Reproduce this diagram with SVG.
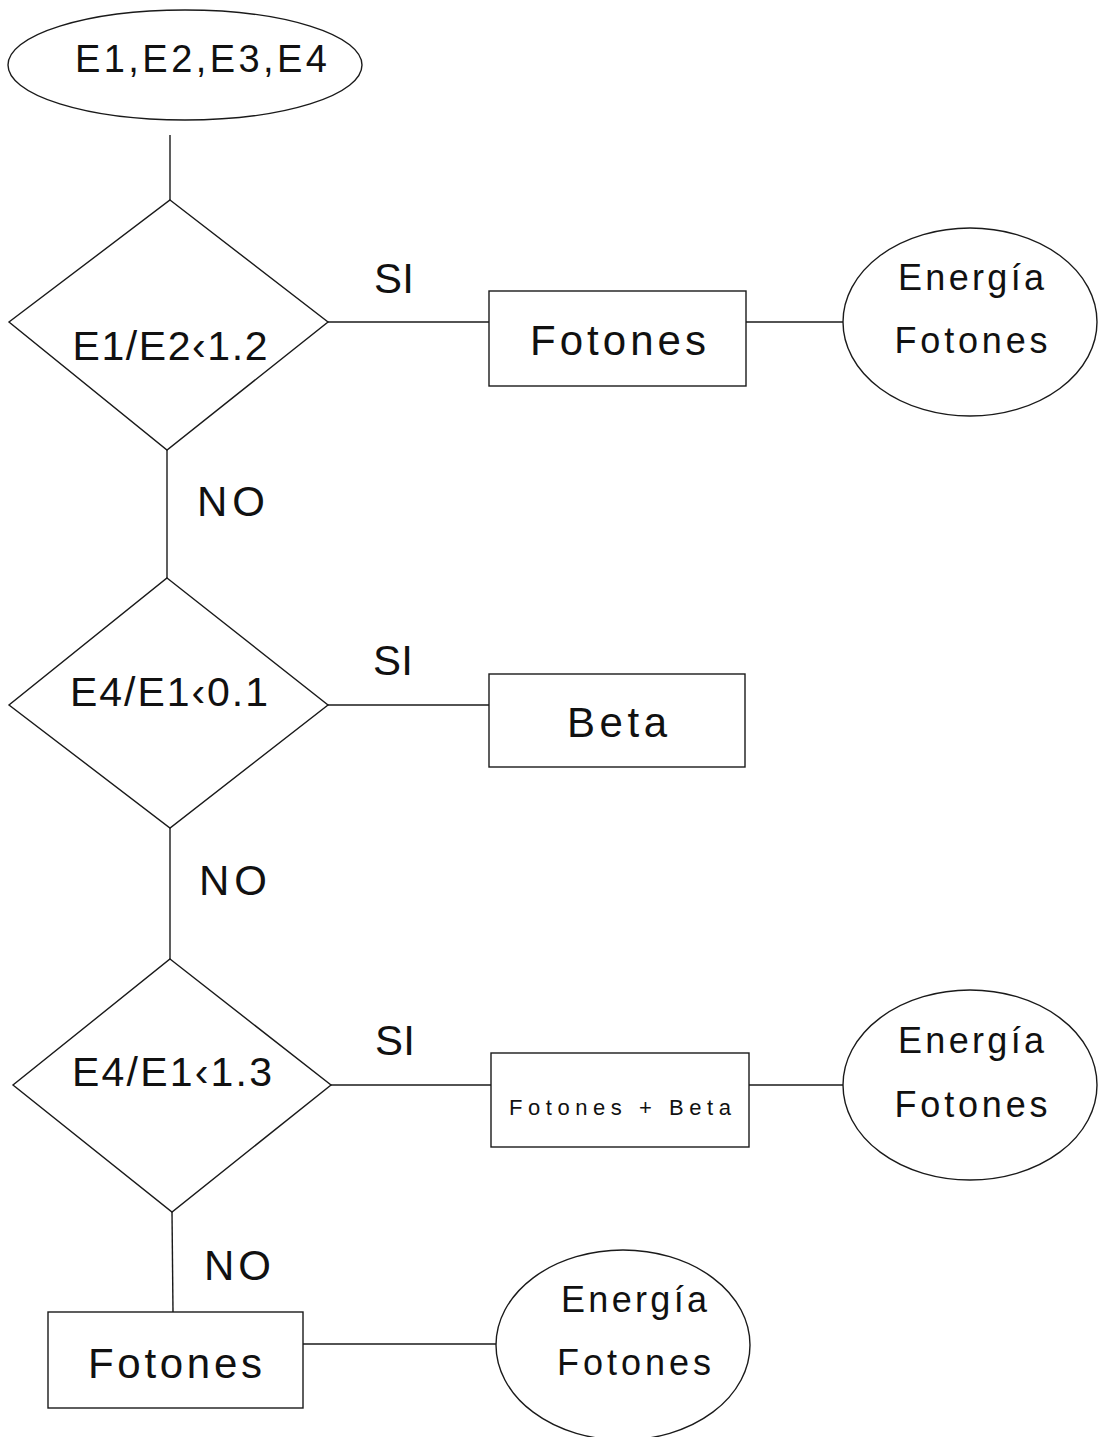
<svg xmlns="http://www.w3.org/2000/svg" width="1099" height="1437" viewBox="0 0 1099 1437">
<style>
.s{fill:#fff;stroke:#1a1a1a;stroke-width:1.4}
.c{stroke:#1a1a1a;stroke-width:1.4;fill:none}
text{font-family:"Liberation Sans",Arial,Helvetica,sans-serif;fill:#111;text-anchor:middle}
.big{font-size:42px}
.dia{font-size:41px}
.ell{font-size:36px}
.lbl{font-size:42px;text-anchor:start}
.sm{font-size:22px}
</style>
<rect width="1099" height="1437" fill="#fff"/>
<g id="connectors">
<line class="c" x1="170" y1="135" x2="170" y2="200"/>
<line class="c" x1="328" y1="322" x2="489" y2="322"/>
<line class="c" x1="746" y1="322" x2="843" y2="322"/>
<line class="c" x1="167" y1="450" x2="167" y2="578"/>
<line class="c" x1="328" y1="705" x2="489" y2="705"/>
<line class="c" x1="170" y1="828" x2="170" y2="959"/>
<line class="c" x1="331" y1="1085" x2="491" y2="1085"/>
<line class="c" x1="749" y1="1085" x2="843" y2="1085"/>
<line class="c" x1="172" y1="1212" x2="173" y2="1312"/>
<line class="c" x1="303" y1="1344" x2="496" y2="1344"/>
<text class="lbl" x="374" y="293" textLength="40">SI</text>
<text class="lbl" x="197" y="516" textLength="68">NO</text>
<text class="lbl" x="373" y="675" textLength="40">SI</text>
<text class="lbl" x="199" y="895" textLength="68">NO</text>
<text class="lbl" x="375" y="1055" textLength="40">SI</text>
<text class="lbl" x="204" y="1280" textLength="67">NO</text>
</g>
<g id="start">
<ellipse class="s" cx="185" cy="65" rx="177" ry="55"/>
<text x="201" y="72" font-size="38" textLength="252">E1,E2,E3,E4</text>
</g>
<g id="dec1">
<polygon class="s" points="170,200 328,322 167,450 9,322"/>
<text class="dia" x="170" y="360" textLength="195">E1/E2‹1.2</text>
</g>
<g id="box1">
<rect class="s" x="489" y="291" width="257" height="95"/>
<text class="big" x="618" y="355" textLength="176">Fotones</text>
</g>
<g id="ell1">
<ellipse class="s" cx="970" cy="322" rx="127" ry="94"/>
<text class="ell" x="971" y="290" textLength="146">Energía</text>
<text class="ell" x="971" y="353" textLength="153">Fotones</text>
</g>
<g id="dec2">
<polygon class="s" points="167,578 328,705 170,828 9,705"/>
<text class="dia" x="169" y="706" textLength="198">E4/E1‹0.1</text>
</g>
<g id="box2">
<rect class="s" x="489" y="674" width="256" height="93"/>
<text class="big" x="617" y="737" textLength="100">Beta</text>
</g>
<g id="dec3">
<polygon class="s" points="170,959 331,1085 172,1212 13,1085"/>
<text class="dia" x="172" y="1086" textLength="200">E4/E1‹1.3</text>
</g>
<g id="box3">
<rect class="s" x="491" y="1053" width="258" height="94"/>
<text class="sm" x="620" y="1115" textLength="222">Fotones + Beta</text>
</g>
<g id="ell3">
<ellipse class="s" cx="970" cy="1085" rx="127" ry="95"/>
<text class="ell" x="971" y="1053" textLength="146">Energía</text>
<text class="ell" x="971" y="1117" textLength="153">Fotones</text>
</g>
<g id="box4">
<rect class="s" x="48" y="1312" width="255" height="96"/>
<text class="big" x="175" y="1378" textLength="174">Fotones</text>
</g>
<g id="ell4">
<ellipse class="s" cx="623" cy="1345" rx="127" ry="95"/>
<text class="ell" x="634" y="1312" textLength="146">Energía</text>
<text class="ell" x="634" y="1375" textLength="154">Fotones</text>
</g>
</svg>
